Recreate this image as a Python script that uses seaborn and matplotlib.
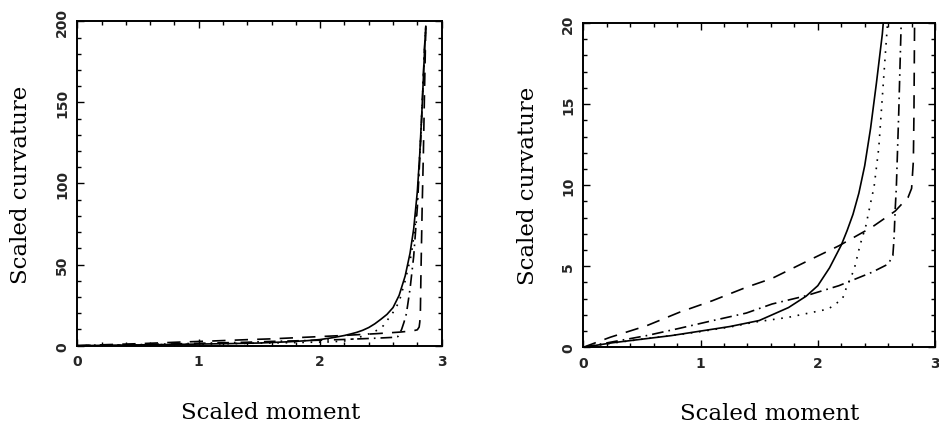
import matplotlib
matplotlib.use("Agg")
import matplotlib.pyplot as plt
import numpy as np
import pandas as pd
import seaborn as sns
from matplotlib.ticker import MultipleLocator

# curves (scaled moment vs scaled curvature)
SOLID_X = [0, 0.25, 0.5, 0.75, 1.0, 1.25, 1.5, 1.75, 1.9, 2.0, 2.1, 2.2, 2.25, 2.3, 2.35,
           2.4, 2.45, 2.5, 2.55, 2.6, 2.65, 2.7, 2.74, 2.77, 2.8, 2.82, 2.84, 2.86, 2.87]
SOLID_Y = [0, 0.28, 0.5, 0.72, 1.0, 1.28, 1.65, 2.45, 3.15, 3.8, 4.9, 6.3, 7.2, 8.2, 9.5,
           11.2, 13.5, 16.3, 19.3, 23.5, 31, 43, 57, 72, 95, 118, 148, 183, 197]

DOTTED_X = [0, 0.25, 0.5, 0.75, 1.0, 1.25, 1.46, 1.75, 2.09, 2.21, 2.24, 2.31, 2.36, 2.41,
            2.45, 2.48, 2.52, 2.55, 2.58, 2.6, 2.65, 2.7, 2.75, 2.78, 2.8, 2.83, 2.86, 2.87]
DOTTED_Y = [0, 0.26, 0.5, 0.72, 0.97, 1.25, 1.55, 1.85, 2.36, 2.98, 3.6, 4.8, 6.3, 7.5,
            8.9, 9.9, 12.3, 15.4, 18.5, 20.5, 27, 40, 56, 72, 90, 132, 183, 197]

DASHDOT_X = [0, 0.23, 0.54, 0.82, 1.1, 1.39, 1.61, 1.9, 2.18, 2.46, 2.6, 2.64, 2.65, 2.66,
             2.67, 2.69, 2.71, 2.74, 2.77, 2.8, 2.83, 2.86, 2.87]
DASHDOT_Y = [0, 0.31, 0.72, 1.17, 1.64, 2.11, 2.67, 3.18, 3.8, 4.62, 5.13, 5.65, 6.7, 8.5,
             9.9, 14.4, 19.7, 35, 55, 85, 130, 185, 197]

DASHED_X = [0, 0.23, 0.54, 0.82, 1.1, 1.39, 1.61, 1.9, 2.18, 2.46, 2.66, 2.77, 2.8, 2.815,
            2.82, 2.825, 2.83, 2.84, 2.85, 2.86, 2.87]
DASHED_Y = [0, 0.62, 1.33, 2.16, 2.87, 3.7, 4.25, 5.28, 6.26, 7.4, 8.4, 9.25, 9.8, 11.5,
            14.4, 19.7, 45, 86, 119, 160, 197]

XTICKS = [0, 1, 2, 3]
LEFT_YTICKS = [0, 50, 100, 150, 200]
RIGHT_YTICKS = [0, 5, 10, 15, 20]

DASHES = {
    "solid": "",
    "dotted": (1, 4),
    "dashdot": (7, 3, 1, 3),
    "dashed": (8, 5.5),
}

SERIF = ["DejaVu Serif"]


def build_frame() -> pd.DataFrame:
    parts = []
    for name, xs, ys in [
        ("solid", SOLID_X, SOLID_Y),
        ("dotted", DOTTED_X, DOTTED_Y),
        ("dashdot", DASHDOT_X, DASHDOT_Y),
        ("dashed", DASHED_X, DASHED_Y),
    ]:
        parts.append(pd.DataFrame({"moment": xs, "curvature": ys, "case": name}))
    return pd.concat(parts, ignore_index=True)


def style_axes(ax, yticks, ymax, yminor):
    ax.set_xlim(0, 3)
    ax.set_ylim(0, ymax)
    ax.set_xticks(XTICKS)
    ax.set_yticks(yticks)
    ax.xaxis.set_minor_locator(MultipleLocator(0.2))
    ax.yaxis.set_minor_locator(MultipleLocator(yminor))
    ax.tick_params(which="both", direction="in", top=True, right=True, width=1.0, color="black")
    ax.tick_params(which="major", length=5)
    ax.tick_params(which="minor", length=3)
    ax.tick_params(axis="x", pad=6)
    ax.tick_params(axis="y", pad=6)
    for lab in ax.get_xticklabels() + ax.get_yticklabels():
        lab.set_fontweight("bold")
        lab.set_fontsize(10)
    for lab in ax.get_yticklabels():
        lab.set_rotation(90)
        lab.set_va("center")
    for sp in ax.spines.values():
        sp.set_linewidth(1.4)
        sp.set_color("black")
    ax.set_xlabel("Scaled moment", family=SERIF, fontsize=16.5, color="black")
    ax.set_ylabel("Scaled curvature", family=SERIF, fontsize=16.5, color="black")
    ax.xaxis.set_label_coords(0.53, -0.17)
    ax.grid(False)


def main() -> None:
    sns.set_theme(style="ticks")
    plt.rcParams["font.family"] = ["DejaVu Sans"]
    df = build_frame()

    fig = plt.figure(figsize=(9.39, 4.31), dpi=100)
    ax_l = fig.add_axes([0.0823, 0.1956, 0.388, 0.7527])
    ax_r = fig.add_axes([0.6212, 0.1919, 0.3746, 0.7524])

    for ax in (ax_l, ax_r):
        sns.lineplot(
            data=df, x="moment", y="curvature", style="case",
            dashes=DASHES, color="black", sort=False, estimator=None,
            legend=False, linewidth=1.2, ax=ax,
        )

    style_axes(ax_l, LEFT_YTICKS, 200, 10)
    style_axes(ax_r, RIGHT_YTICKS, 20, 1)
    ax_l.yaxis.set_label_coords(-0.125, 0.5)
    ax_r.yaxis.set_label_coords(-0.125, 0.5)

    fig.savefig("out.png", dpi=100)
    plt.close(fig)


if __name__ == "__main__":
    main()
